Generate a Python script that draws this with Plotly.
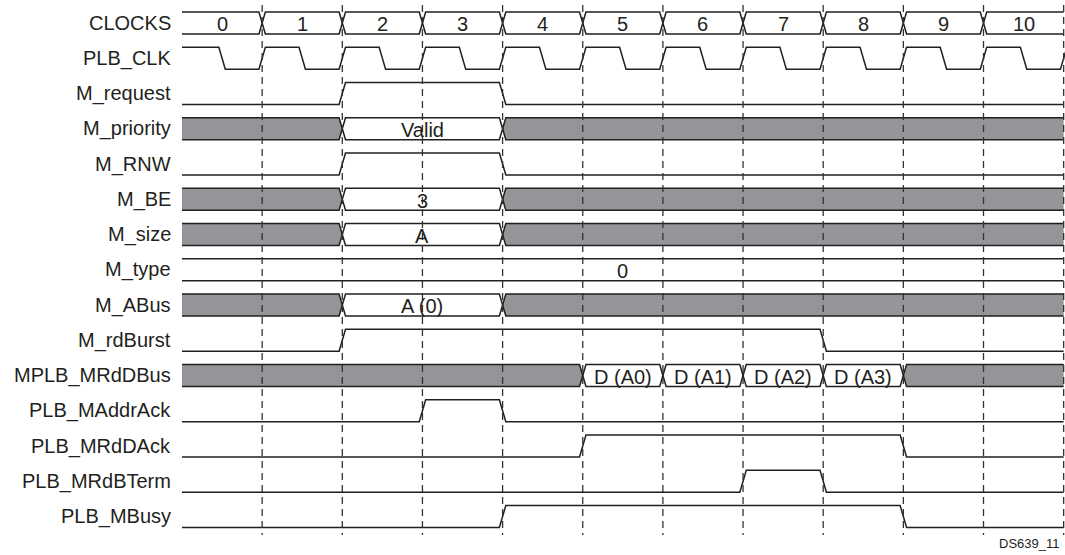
import plotly.graph_objects as go

# ---------------- data ----------------
signal_names = ["CLOCKS", "PLB_CLK", "M_request", "M_priority", "M_RNW", "M_BE",
                "M_size", "M_type", "M_ABus", "M_rdBurst", "MPLB_MRdDBus",
                "PLB_MAddrAck", "PLB_MRdDAck", "PLB_MRdBTerm", "PLB_MBusy"]

clock_labels = ["0", "1", "2", "3", "4", "5", "6", "7", "8", "9", "10"]
clock_bounds = [0, 1, 2, 3, 4, 5, 6, 7, 8, 9, 10, 11]

plb_clk_fall = [0.5, 1.5, 2.5, 3.5, 4.5, 5.5, 6.5, 7.5, 8.5, 9.5, 10.5]
plb_clk_rise = [1, 2, 3, 4, 5, 6, 7, 8, 9, 10, 11]

m_request_edges = [2, 4]
m_rnw_edges = [2, 4]
m_rdburst_edges = [2, 8]
plb_maddrack_edges = [3, 4]
plb_mrddack_edges = [5, 9]
plb_mrdbterm_edges = [7, 8]
plb_mbusy_edges = [4, 9]

m_priority_bounds = [0, 2, 4, 11]
m_priority_values = [None, "Valid", None]
m_be_bounds = [0, 2, 4, 11]
m_be_values = [None, "3", None]
m_size_bounds = [0, 2, 4, 11]
m_size_values = [None, "A", None]
m_type_bounds = [0, 11]
m_type_values = ["0"]
m_abus_bounds = [0, 2, 4, 11]
m_abus_values = [None, "A (0)", None]
mplb_bounds = [0, 5, 6, 7, 8, 9, 11]
mplb_values = [None, "D (A0)", "D (A1)", "D (A2)", "D (A3)", None]

cycle_marks = [1, 2, 3, 4, 5, 6, 7, 8, 9, 10, 11]
figure_id = "DS639_11"

# ---------------- styling / geometry ----------------
W, H = 1065, 555
X0, PX_PER_T = 182.0, 80.15
Y0, PX_PER_ROW = 23.0, 35.25
T_END = 11
HALF = 11.0 / PX_PER_ROW      # half-height of a waveform row
EDGE = 0.04                   # half-width of an edge / bus crossing
LINE = "#231f20"
GRAY = "#939598"
FONT = "Liberation Sans, Arial, Helvetica, sans-serif"

fig = go.Figure()
row = {n: i for i, n in enumerate(signal_names)}


def add_line(xs, ys, color=LINE, width=1.5, dash=None):
    fig.add_trace(go.Scatter(x=xs, y=ys, mode="lines",
                             line=dict(color=color, width=width, dash=dash),
                             hoverinfo="skip", showlegend=False))


def binary_wave(name, edges, init=0):
    k = row[name]
    lv = {1: k - HALF, 0: k + HALF}
    level = init
    xs, ys = [0], [lv[level]]
    for te in edges:
        xs += [te - EDGE, te + EDGE]
        ys += [lv[level], lv[1 - level]]
        level = 1 - level
    xs.append(T_END)
    ys.append(lv[level])
    add_line(xs, ys)


def clock_wave(name, falls, rises):
    k = row[name]
    hi, lo = k - HALF, k + HALF
    xs, ys = [0], [hi]
    for f, r in zip(falls, rises):
        xs += [f - EDGE, f + EDGE, r - EDGE, r + EDGE]
        ys += [hi, lo, lo, hi]
    add_line(xs, ys)


def bus_wave(name, bounds, values):
    k = row[name]
    top, mid, bot = k - HALF, k, k + HALF
    ox, oy = [], []
    for i, v in enumerate(values):
        s, e = bounds[i], bounds[i + 1]
        lo_open = s <= 0
        hi_open = e >= T_END
        # fill polygon
        px, py = [], []
        if lo_open:
            px += [s, s]; py += [bot, top]
        else:
            px += [s, s + EDGE]; py += [mid, top]
        if hi_open:
            px += [e, e]; py += [top, bot]
        else:
            px += [e - EDGE, e, e - EDGE]; py += [top, mid, bot]
        if not lo_open:
            px += [s + EDGE]; py += [bot]
        px.append(px[0]); py.append(py[0])
        fill = "white" if v is not None else GRAY
        fig.add_trace(go.Scatter(x=px, y=py, mode="lines", fill="toself",
                                 fillcolor=fill, line=dict(width=0),
                                 hoverinfo="skip", showlegend=False))
        # outline
        if lo_open:
            ox += [s]; oy += [top]
        else:
            ox += [s, s + EDGE]; oy += [mid, top]
        if hi_open:
            ox += [e, None, e]; oy += [top, None, bot]
        else:
            ox += [e - EDGE, e, e - EDGE]; oy += [top, mid, bot]
        if lo_open:
            ox += [s, None]; oy += [bot, None]
        else:
            ox += [s + EDGE, s, None]; oy += [bot, mid, None]
        if v is not None:
            fig.add_annotation(x=(s + e) / 2, y=mid + 0.04, text=v, showarrow=False,
                               xanchor="center", yanchor="middle",
                               font=dict(family=FONT, size=20, color=LINE))
    add_line(ox, oy)


bus_wave("CLOCKS", clock_bounds, clock_labels)
clock_wave("PLB_CLK", plb_clk_fall, plb_clk_rise)
binary_wave("M_request", m_request_edges)
bus_wave("M_priority", m_priority_bounds, m_priority_values)
binary_wave("M_RNW", m_rnw_edges)
bus_wave("M_BE", m_be_bounds, m_be_values)
bus_wave("M_size", m_size_bounds, m_size_values)
bus_wave("M_type", m_type_bounds, m_type_values)
bus_wave("M_ABus", m_abus_bounds, m_abus_values)
binary_wave("M_rdBurst", m_rdburst_edges)
bus_wave("MPLB_MRdDBus", mplb_bounds, mplb_values)
binary_wave("PLB_MAddrAck", plb_maddrack_edges)
binary_wave("PLB_MRdDAck", plb_mrddack_edges)
binary_wave("PLB_MRdBTerm", plb_mrdbterm_edges)
binary_wave("PLB_MBusy", plb_mbusy_edges)

# dashed cycle markers
y_top = (5 - Y0) / PX_PER_ROW
y_bot = (535 - Y0) / PX_PER_ROW
dx, dy = [], []
for c in cycle_marks:
    dx += [c, c, None]
    dy += [y_top, y_bot, None]
add_line(dx, dy, color="#333333", width=1.3, dash="7px,5px")

# signal labels
label_x = (173 - X0) / PX_PER_T
for n in signal_names:
    fig.add_annotation(x=label_x, y=row[n], text=n, showarrow=False,
                       xanchor="right", yanchor="middle",
                       font=dict(family=FONT, size=20, color=LINE))

fig.add_annotation(x=(1061 - X0) / PX_PER_T, y=(543 - Y0) / PX_PER_ROW, text=figure_id,
                   showarrow=False, xanchor="right", yanchor="middle",
                   font=dict(family=FONT, size=13, color=LINE))

fig.update_layout(
    width=W, height=H, margin=dict(l=0, r=0, t=0, b=0),
    paper_bgcolor="white", plot_bgcolor="white", showlegend=False,
    xaxis=dict(range=[-X0 / PX_PER_T, (W - X0) / PX_PER_T], visible=False, fixedrange=True),
    yaxis=dict(range=[(H - Y0) / PX_PER_ROW, -Y0 / PX_PER_ROW], visible=False, fixedrange=True),
)

fig.write_html("out.html", config={"displayModeBar": False},
               post_script="document.body.style.margin='0';document.body.style.overflow='hidden';")
